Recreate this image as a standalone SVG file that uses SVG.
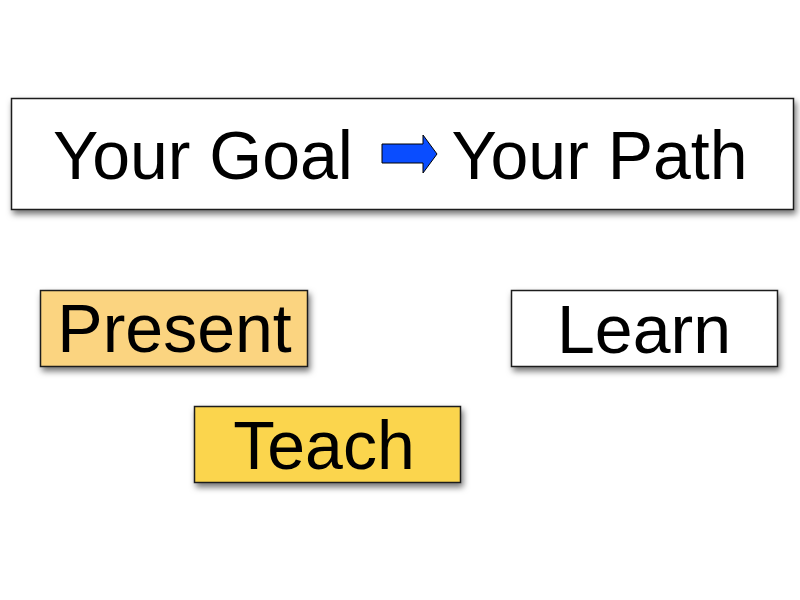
<svg xmlns="http://www.w3.org/2000/svg" width="800" height="600" viewBox="0 0 800 600">
<style>
.box{stroke:#1a1a1a;stroke-width:1.5;filter:url(#sh)}
.t{font-family:"Liberation Sans",Arial,sans-serif;font-size:68px;fill:#000;text-anchor:middle}
</style>
<defs>
<filter id="sh" x="-10%" y="-20%" width="130%" height="160%">
<feDropShadow dx="2" dy="4" stdDeviation="3" flood-color="#000" flood-opacity="0.55"/>
</filter>
</defs>
<rect width="800" height="600" fill="#fff"/>
<g id="title">
<rect class="box" x="11.5" y="98.5" width="782" height="111" fill="#fff"/>
<text class="t" x="203" y="179">Your Goal</text>
<text class="t" x="599.5" y="179">Your Path</text>
</g>
<g id="connectors">
<polygon points="382,144 423,144 423,135 437,154 423,173 423,163 382,163" fill="#0a4dff" stroke="#000" stroke-width="1"/>
</g>
<g id="present">
<rect class="box" x="40.5" y="290.5" width="267" height="76" fill="#fbd480"/>
<text class="t" x="174.5" y="352">Present</text>
</g>
<g id="learn">
<rect class="box" x="511.5" y="290.5" width="266" height="76" fill="#fff"/>
<text class="t" x="644" y="353">Learn</text>
</g>
<g id="teach">
<rect class="box" x="194.5" y="406.5" width="266" height="76" fill="#fbd54e"/>
<text class="t" x="324" y="469">Teach</text>
</g>
</svg>
